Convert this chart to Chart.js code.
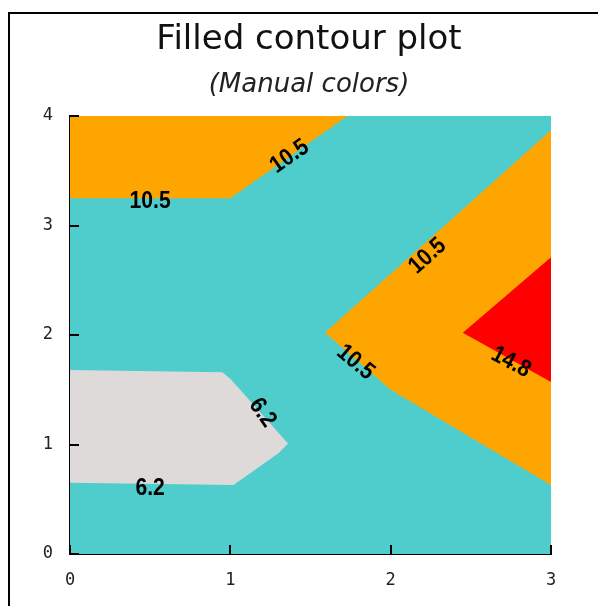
<!DOCTYPE html>
<html>
<head>
<meta charset="utf-8">
<script src="https://cdn.jsdelivr.net/npm/chart.js@4/dist/chart.umd.min.js"></script>
<style>
  html, body { margin: 0; padding: 0; background: #fff; }
  #wrap { position: relative; width: 598px; height: 606px; overflow: hidden; }
  #frame { position: absolute; left: 8px; top: 12px; width: 700px; height: 700px;
           border-left: 2px solid #000; border-top: 2px solid #000; }
  canvas { position: absolute; left: 0; top: 0; }
</style>
</head>
<body>
<div id="wrap">
  <div id="frame"></div>
  <canvas id="c" width="598" height="606"></canvas>
</div>
<script>
// ---- data (data coordinates) ----
const xTicks = [0, 1, 2, 3];
const yTicks = [0, 1, 2, 3, 4];

// filled contour regions: polygons [x, y]
const regionBase     = [[0, 0], [3, 0], [3, 4], [0, 4]];                       // 6.2 – 10.5
const regionTopLeft  = [[0, 4], [1.73, 4], [1.0, 3.25], [0, 3.25]];            // 10.5 – 14.8
const regionRight    = [[1.59, 2.02], [3, 3.87], [3, 0.63], [2.0, 1.50]];      // 10.5 – 14.8
const regionRed      = [[2.45, 2.02], [3, 2.71], [3, 1.57]];                   // > 14.8
const regionLow      = [[0, 1.68], [0.95, 1.66], [1.0, 1.60], [1.36, 1.01],
                        [1.30, 0.92], [1.02, 0.63], [0, 0.65]];               // < 6.2

// contour labels: [x, y, text]
const labelPoints = [
  [0.50, 3.22, '10.5'],
  [1.37, 3.63, '10.5'],
  [2.23, 2.72, '10.5'],
  [1.78, 1.75, '10.5'],
  [2.75, 1.75, '14.8'],
  [1.20, 1.29, '6.2'],
  [0.50, 0.60, '6.2']
];
// label rotation in degrees (style)
const labelAngles = [0, -35, -42, 40, 28, 55, 0];

// ---- styles ----
const colBase = '#4ecdcc';
const colOrange = '#ffa500';
const colRed = '#ff0000';
const colLow = '#dedada';

function poly(pts, color, order) {
  return {
    data: pts.concat([pts[0]]).map(p => ({ x: p[0], y: p[1] })),
    showLine: true,
    fill: 'shape',
    backgroundColor: color,
    borderColor: color,
    borderWidth: 0,
    pointRadius: 0,
    tension: 0,
    order: order
  };
}

const innerTicks = {
  id: 'innerTicks',
  afterDraw(chart) {
    const ctx = chart.ctx, xs = chart.scales.x, ys = chart.scales.y, a = chart.chartArea;
    ctx.save();
    ctx.strokeStyle = '#000';
    ctx.lineWidth = 2;
    xTicks.forEach(v => {
      const px = Math.round(xs.getPixelForValue(v));
      ctx.beginPath(); ctx.moveTo(px, a.bottom); ctx.lineTo(px, a.bottom - 9); ctx.stroke();
    });
    yTicks.forEach(v => {
      const py = Math.round(ys.getPixelForValue(v));
      ctx.beginPath(); ctx.moveTo(a.left, py); ctx.lineTo(a.left + 9, py); ctx.stroke();
    });
    ctx.restore();
  }
};

const contourLabels = {
  id: 'contourLabels',
  afterDatasetsDraw(chart) {
    const ctx = chart.ctx, xs = chart.scales.x, ys = chart.scales.y;
    ctx.save();
    ctx.fillStyle = '#000';
    ctx.font = 'bold 24px "Liberation Sans", Arial, sans-serif';
    ctx.textAlign = 'center';
    ctx.textBaseline = 'middle';
    labelPoints.forEach((p, i) => {
      ctx.save();
      ctx.translate(xs.getPixelForValue(p[0]), ys.getPixelForValue(p[1]));
      ctx.rotate(labelAngles[i] * Math.PI / 180);
      ctx.scale(0.88, 1);
      ctx.fillText(p[2], 0, 0);
      ctx.restore();
    });
    ctx.restore();
  }
};

new Chart(document.getElementById('c'), {
  type: 'scatter',
  data: {
    datasets: [
      poly(regionBase, colBase, 10),
      poly(regionTopLeft, colOrange, 5),
      poly(regionRight, colOrange, 5),
      poly(regionRed, colRed, 3),
      poly(regionLow, colLow, 4)
    ]
  },
  options: {
    responsive: false,
    animation: false,
    layout: { padding: { left: 20, right: 0, top: 0, bottom: 0 } },
    plugins: {
      legend: { display: false },
      tooltip: { enabled: false },
      title: {
        display: true,
        text: 'Filled contour plot',
        color: '#111',
        font: { family: '"DejaVu Sans", Verdana, sans-serif', size: 34, weight: 'normal', lineHeight: 1.2 },
        padding: { top: 20, bottom: 4 }
      },
      subtitle: {
        display: true,
        text: '(Manual colors)',
        color: '#222',
        font: { family: '"DejaVu Sans", Verdana, sans-serif', size: 26, style: 'italic', weight: 'normal', lineHeight: 1.2 },
        padding: { top: 5, bottom: 15 }
      }
    },
    scales: {
      x: {
        type: 'linear', min: 0, max: 3,
        afterBuildTicks: s => { s.ticks = xTicks.map(v => ({ value: v })); },
        afterFit: s => { s.height = 52; },
        grid: { display: false, drawTicks: false },
        border: { display: true, color: '#000', width: 2 },
        ticks: { color: '#222', padding: 16, maxRotation: 0,
                 font: { family: '"DejaVu Sans Mono", monospace', size: 17 } }
      },
      y: {
        type: 'linear', min: 0, max: 4,
        afterBuildTicks: s => { s.ticks = yTicks.map(v => ({ value: v })); },
        afterFit: s => { s.width = 50; },
        grid: { display: false, drawTicks: false },
        border: { display: true, color: '#000', width: 2 },
        ticks: { color: '#222', padding: 17,
                 font: { family: '"DejaVu Sans Mono", monospace', size: 17 } }
      },
      yRight: {
        type: 'linear', position: 'right', min: 0, max: 4,
        afterFit: s => { s.width = 47; },
        grid: { display: false, drawTicks: false },
        border: { display: false },
        ticks: { display: false }
      }
    }
  },
  plugins: [contourLabels, innerTicks]
});
</script>
</body>
</html>
